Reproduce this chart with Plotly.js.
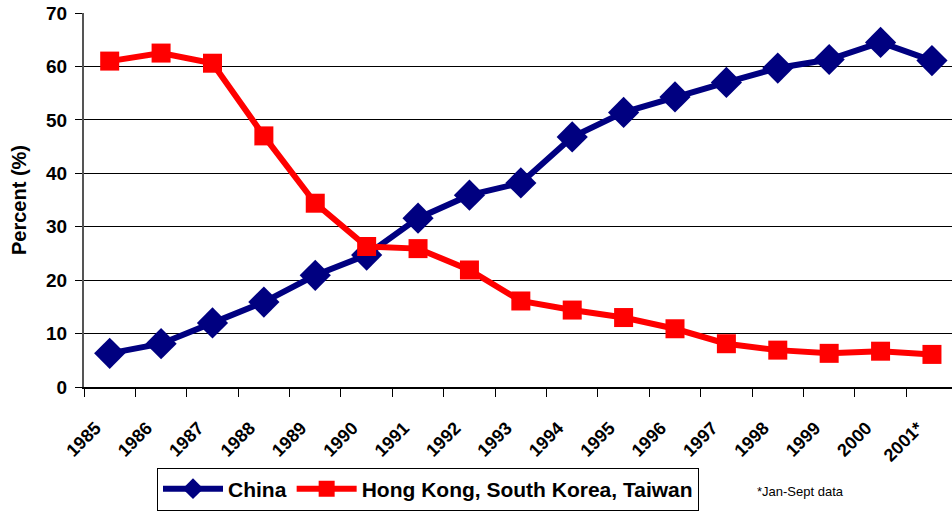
<!DOCTYPE html>
<html>
<head>
<meta charset="utf-8">
<script src="https://cdn.plot.ly/plotly-3.0.1.min.js"></script>
<style>html,body{margin:0;padding:0;background:#fff;}#chart{width:952px;height:513px;}</style>
</head>
<body>
<div id="chart"></div>
<script>
const years = ["1985","1986","1987","1988","1989","1990","1991","1992","1993","1994","1995","1996","1997","1998","1999","2000","2001*"];
const china = [6.3, 8.1, 12.0, 15.9, 20.9, 24.7, 31.6, 35.9, 38.2, 46.8, 51.4, 54.3, 57.0, 59.7, 61.3, 64.5, 61.1];
const hkSkTw = [61.0, 62.5, 60.6, 47.0, 34.4, 26.3, 25.9, 21.9, 16.1, 14.4, 13.0, 10.9, 8.1, 6.9, 6.3, 6.7, 6.1];
const yTicks = [0, 10, 20, 30, 40, 50, 60, 70];

const font = "Liberation Sans, Arial, sans-serif";
const traces = [
  {x: years, y: china, name: "China", type: "scatter", mode: "lines+markers",
   line: {color: "#000080", width: 6},
   marker: {symbol: "diamond", size: 24, color: "#000080"}},
  {x: years, y: hkSkTw, name: "Hong Kong, South Korea, Taiwan", type: "scatter", mode: "lines+markers",
   line: {color: "#ff0000", width: 6},
   marker: {symbol: "square", size: 19, color: "#ff0000"}}
];
const layout = {
  width: 952, height: 513,
  margin: {l: 84, r: 0, t: 13, b: 126},
  paper_bgcolor: "#fff", plot_bgcolor: "#fff",
  font: {family: font, color: "#000"},
  showlegend: true,
  legend: {orientation: "h", x: 157/952, y: 1 - 489/513, xref: "container", yref: "container", xanchor: "left", yanchor: "middle",
           bordercolor: "#000", borderwidth: 1, bgcolor: "#fff",
           font: {family: font, size: 21, color: "#000", weight: "bold"}, itemwidth: 60, tracegroupgap: 0},
  xaxis: {type: "category", range: [-0.5, 16.39], tickangle: -45, tickson: "boundaries",
          ticks: "outside", ticklen: 8, tickcolor: "#000", tickwidth: 1,
          showline: true, linecolor: "#000", linewidth: 1.5, showgrid: false, zeroline: false,
          ticklabelstandoff: 22, ticklabelshift: -14,
          tickfont: {family: font, size: 18, color: "#000", weight: "bold"}, fixedrange: true},
  yaxis: {range: [0, 70], tickvals: yTicks, ticks: "outside", ticklen: 7, tickcolor: "#000",
          showline: true, linecolor: "#555", linewidth: 2, showgrid: true, gridcolor: "#000", gridwidth: 1,
          zeroline: false, ticklabelstandoff: 4,
          tickfont: {family: font, size: 19, color: "#000", weight: "bold"},
          title: {text: "Percent (%)", font: {family: font, size: 20, color: "#000", weight: "bold"}, standoff: 14}},
  annotations: [
    {text: "*Jan-Sept data", xref: "paper", yref: "paper", x: (755 - 84) / 868, y: (387 - 491) / 374, xanchor: "left", yanchor: "middle",
     showarrow: false, font: {family: font, size: 13, color: "#000"}}
  ]
};
Plotly.newPlot("chart", traces, layout, {displayModeBar: false, staticPlot: true});
</script>
</body>
</html>
